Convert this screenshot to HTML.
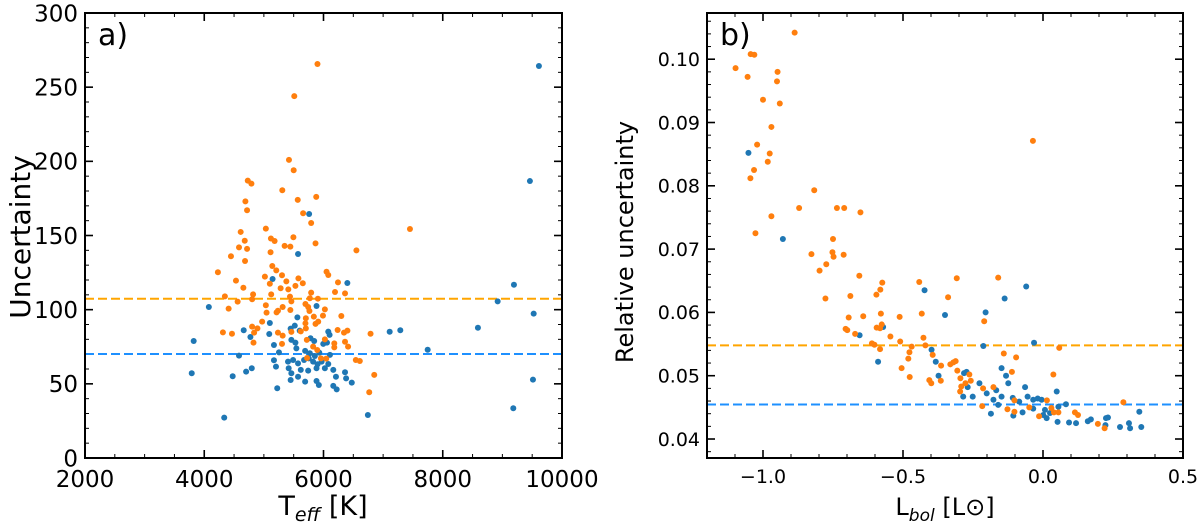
<!DOCTYPE html>
<html><head><meta charset="utf-8">
<style>
html,body{margin:0;padding:0;background:#fff;}
svg{display:block;font-family:"DejaVu Sans","Liberation Sans",sans-serif;}
</style></head>
<body>
<svg id="chart" width="1200" height="525" viewBox="0 0 1200 525" xmlns="http://www.w3.org/2000/svg"></svg>
<script>
// ---- Panel a data: Teff [K] vs uncertainty ----
const aOrangeT=[5421,5500,4730,4791,5309,4690,4718,5568,5878,5658,5793,7450,5033,4611,5118,5180,5495,4679,5348,5444,5866,4583,4718,5112,4448,6552,4684,5141,5208,4229,5304,6051,6080,5017,5579,4532,5377,5100,5529,5653,6243,4656,5281,5410,5793,6193,6361,4346,4819,5123,5438,5771,5906,4560,4803,5461,5697,4409,5033,5315,5236,5743,6023,5444,5045,5213,5764,5991,5838,6299,4971,5704,5911,5697,5866,4803,4892,5704,4313,4465,4836,5236,5315,5461,5619,6237,6344,6401,6789,4826,5304,5720,5826,5895,6023,6181,6181,6361,6412,5725,5957,6046,6542,6609,6851,6767,5899,5510];
const aOrangeU=[201,194,187,185,180.5,173,167,174,176,165,158.4,154.4,154.6,152.4,148,146.3,148.8,146.5,143,142.5,144.7,142,141,138.7,136,140,132.8,129.4,126.5,125.2,123.2,125.6,123.4,122.3,121.1,119.6,119.1,117.5,116,117.8,118.4,114.8,114.4,113.7,111.5,111.9,111,109,110.3,110.3,108.8,107.7,107.4,105.4,107,105.6,103.8,100.7,103,101.8,99.3,101.8,100.2,99.8,98,98.2,99.1,96,95.3,95.7,91.9,94.2,91.9,90.8,90.4,88.6,87.4,87.4,84.7,83.8,84.5,84.5,82.5,85,85.4,86.3,84.5,85.9,83.8,77.8,76.9,79.6,75.1,72.8,80,77.3,74.6,78.4,75.1,67.4,67.2,67,66.1,65.4,56,44.3,265.6,244];
const aBlueT=[5759,5573,5146,6400,4077,5883,5562,5100,4662,5090,5449,5518,5601,6080,6102,7110,7288,3823,4774,5169,5461,5529,5782,5844,5996,6058,4583,5253,5545,5692,5771,5855,5929,6108,5169,5405,5490,5573,5674,5754,5826,5900,5968,6080,3790,4477,4702,4797,5203,5416,5461,5619,5743,5883,6023,6164,6361,5449,5573,5692,5883,6209,6379,6474,5224,5922,6164,6221,4335,6744,9613,9462,9194,8921,8590,9525,9513,9183,7747];
const aBlueU=[164.5,137.5,120.7,118,101.8,102.5,94.8,91,86.1,83.6,87.2,89.2,85.9,85.2,83,85.1,86.1,78.9,81.6,76.2,79.6,77.8,80.7,78.9,76.9,77.8,69,71.2,73.9,72.2,70.6,68.8,71,69.5,65.9,65,66.1,63.8,66.1,67.2,65,63.2,65,63.4,57.1,55.1,58.2,60.5,61.6,60.5,57.1,59.4,58.9,60.5,60.5,59.4,57.8,52.6,54.8,51.5,51.9,54.8,53.7,50.8,47,49.2,48.6,46.3,27.2,29,264.3,186.7,116.8,105.6,87.8,97.3,52.8,33.5,73];
const aOrangeMean=107.4, aBlueMean=70.1;
const aXTicks=[2000,4000,6000,8000,10000];
const aYTicks=[0,50,100,150,200,250,300];

// ---- Panel b data: Lbol vs relative uncertainty ----
const bOrangeL=[-1.098,-1.055,-1.044,-1.031,-0.887,-0.948,-0.950,-1.000,-0.940,-0.970,-1.021,-0.976,-0.983,-1.032,-1.045,-1.027,-0.970,-0.817,-0.871,-0.736,-0.710,-0.652,-0.750,-0.827,-0.752,-0.748,-0.712,-0.774,-0.798,-0.656,-0.777,-0.688,-0.574,-0.581,-0.595,-0.642,-0.694,-0.705,-0.699,-0.671,-0.579,-0.594,-0.582,-0.576,-0.545,-0.512,-0.510,-0.611,-0.602,-0.582,-0.469,-0.477,-0.481,-0.505,-0.476,-0.442,-0.433,-0.427,-0.420,-0.394,-0.406,-0.399,-0.364,-0.365,-0.339,-0.308,-0.331,-0.320,-0.312,-0.306,-0.295,-0.292,-0.296,-0.277,-0.263,-0.258,-0.210,-0.160,-0.214,-0.177,-0.217,-0.140,-0.096,-0.111,-0.102,-0.127,-0.102,-0.049,-0.014,-0.036,0.014,0.030,0.037,0.039,0.055,0.058,0.114,0.125,0.196,0.220,0.287];
const bOrangeR=[0.0986,0.0972,0.1008,0.1007,0.1042,0.0980,0.0965,0.0936,0.0930,0.0893,0.0865,0.0851,0.0838,0.0825,0.0812,0.0725,0.0752,0.0793,0.0765,0.0765,0.0765,0.0758,0.0716,0.0692,0.0695,0.0688,0.0691,0.0676,0.0666,0.0658,0.0622,0.0626,0.0647,0.0636,0.0628,0.0594,0.0592,0.0574,0.0572,0.0566,0.0598,0.0576,0.0575,0.0581,0.0562,0.0593,0.0554,0.0551,0.0549,0.0542,0.0546,0.0537,0.0527,0.0512,0.0498,0.0648,0.0598,0.0560,0.0548,0.0533,0.0493,0.0488,0.0516,0.0492,0.0624,0.0654,0.0518,0.0521,0.0523,0.0508,0.0496,0.0483,0.0475,0.0488,0.0502,0.0492,0.0586,0.0655,0.0480,0.0482,0.0452,0.0535,0.0529,0.0506,0.0461,0.0447,0.0443,0.0450,0.0436,0.0871,0.0461,0.0449,0.0502,0.0442,0.0442,0.0544,0.0442,0.0438,0.0424,0.0417,0.0458];
const bBlueL=[-1.052,-0.929,-0.655,-0.589,-0.571,-0.423,-0.398,-0.383,-0.373,-0.350,-0.282,-0.273,-0.285,-0.269,-0.251,-0.227,-0.205,-0.213,-0.201,-0.186,-0.167,-0.148,-0.137,-0.132,-0.124,-0.177,-0.160,-0.148,-0.108,-0.106,-0.085,-0.073,-0.064,-0.060,-0.055,-0.032,-0.035,-0.019,-0.005,-0.035,0.007,0.013,0.001,0.025,0.049,0.055,0.052,0.082,0.093,0.118,0.160,0.171,0.225,0.232,0.223,0.275,0.307,0.311,0.344,0.351];
const bBlueR=[0.0852,0.0716,0.0564,0.0522,0.0577,0.0635,0.0541,0.0522,0.0500,0.0596,0.0504,0.0506,0.0467,0.0482,0.0467,0.0488,0.0600,0.0547,0.0472,0.0440,0.0477,0.0512,0.0622,0.0500,0.0488,0.0462,0.0454,0.0467,0.0465,0.0437,0.0459,0.0442,0.0482,0.0641,0.0467,0.0552,0.0462,0.0464,0.0462,0.0448,0.0446,0.0433,0.0438,0.0441,0.0475,0.0451,0.0427,0.0455,0.0426,0.0425,0.0428,0.0431,0.0433,0.0434,0.0422,0.0419,0.0425,0.0417,0.0443,0.0419];
const bOrangeMean=0.0548, bBlueMean=0.04545;
const bXTicks=[-1.0,-0.5,0.0,0.5];
const bXTickLabels=["\u22121.0","\u22120.5","0.0","0.5"];
const bYTicks=[0.04,0.05,0.06,0.07,0.08,0.09,0.10];
const bYTickLabels=["0.04","0.05","0.06","0.07","0.08","0.09","0.10"];

const NS="http://www.w3.org/2000/svg";
const svg=document.getElementById('chart');
function mk(tag,attrs,parent){const e=document.createElementNS(NS,tag);for(const k in attrs)e.setAttribute(k,attrs[k]);(parent||svg).appendChild(e);return e;}
const BLUE="#1f77b4", ORANGE="#ff7f0e";

function panel(cfg){
  const g=mk('g',{});
  
  
  const L=cfg.x0,R=cfg.x1,T=13,B=458;
  const sx=v=>L+(v-cfg.xmin)/(cfg.xmax-cfg.xmin)*(R-L);
  const sy=v=>B-(v-cfg.ymin)/(cfg.ymax-cfg.ymin)*(B-T);
  for(let v=cfg.xmin0;v<=cfg.xmax+1e-9;v+=cfg.xminor){if(v<cfg.xmin-1e-9)continue;const x=sx(v);
    mk('line',{x1:x,x2:x,y1:B,y2:B-4,stroke:'#000','stroke-width':1},g);
    mk('line',{x1:x,x2:x,y1:T,y2:T+4,stroke:'#000','stroke-width':1},g);}
  for(let v=cfg.ymin0;v<=cfg.ymax+1e-9;v+=cfg.yminor){if(v<cfg.ymin-1e-9)continue;const y=sy(v);
    mk('line',{x1:L,x2:L+4,y1:y,y2:y,stroke:'#000','stroke-width':1},g);
    mk('line',{x1:R,x2:R-4,y1:y,y2:y,stroke:'#000','stroke-width':1},g);}
  cfg.xt.forEach((v,i)=>{const x=sx(v);
    mk('line',{x1:x,x2:x,y1:B,y2:B-8,stroke:'#000','stroke-width':1.6},g);
    mk('line',{x1:x,x2:x,y1:T,y2:T+8,stroke:'#000','stroke-width':1.6},g);
    const t=mk('text',{x:x,y:B+cfg.fs+6,'text-anchor':'middle','font-size':cfg.fs},g);t.textContent=cfg.xtl[i];
    
    });
  cfg.yt.forEach((v,i)=>{const y=sy(v);
    mk('line',{x1:L,x2:L+8,y1:y,y2:y,stroke:'#000','stroke-width':1.6},g);
    mk('line',{x1:R,x2:R-8,y1:y,y2:y,stroke:'#000','stroke-width':1.6},g);
    const t=mk('text',{x:L-7,y:y+cfg.fs*0.36,'text-anchor':'end','font-size':cfg.fs},g);t.textContent=cfg.ytl[i];
    
    });
  const lo=mk('line',{x1:L,x2:R,y1:sy(cfg.om),y2:sy(cfg.om),stroke:'#ffa500','stroke-width':2,'stroke-dasharray':'9,4'},g);
  
  
  const lb=mk('line',{x1:L,x2:R,y1:sy(cfg.bm),y2:sy(cfg.bm),stroke:'#1e90ff','stroke-width':2,'stroke-dasharray':'9,4'},g);
  
  
  cfg.bx.forEach((v,i)=>{const c=mk('circle',{cx:sx(v),cy:sy(cfg.by[i]),r:3,fill:BLUE},g);
    
    });
  cfg.ox.forEach((v,i)=>{const c=mk('circle',{cx:sx(v),cy:sy(cfg.oy[i]),r:3,fill:ORANGE},g);
    
    });
  const fr=mk('rect',{x:L,y:T,width:R-L,height:B-T,fill:'none',stroke:'#000','stroke-width':2},g);
  
  
  const pl=mk('text',{x:L+13,y:T+32,'font-size':30},g);pl.textContent=cfg.label;
  
  
}

panel({name:'panel-a',x0:85,x1:562,xmin:2000,xmin0:2000,xmax:10000,xminor:500,ymin:0,ymin0:0,ymax:300,yminor:10,fs:23,
  xt:aXTicks,xtl:aXTicks.map(String),yt:aYTicks,ytl:aYTicks.map(String),
  om:aOrangeMean,bm:aBlueMean,ox:aOrangeT,oy:aOrangeU,bx:aBlueT,by:aBlueU,label:'a)'});
panel({name:'panel-b',x0:707,x1:1183,xmin:-1.2,xmin0:-1.2,xmax:0.5,xminor:0.1,ymin:0.037,ymin0:0.036,ymax:0.1073,yminor:0.002,fs:19,
  xt:bXTicks,xtl:bXTickLabels,yt:bYTicks,ytl:bYTickLabels,
  om:bOrangeMean,bm:bBlueMean,ox:bOrangeL,oy:bOrangeR,bx:bBlueL,by:bBlueR,label:'b)'});

let t;
t=mk('text',{x:323,y:515,'text-anchor':'middle','font-size':27});
t.innerHTML='T<tspan font-size="19" dy="6" font-style="italic">eff</tspan><tspan dy="-6"> [K]</tspan>';


t=mk('text',{x:0,y:0,'text-anchor':'middle','font-size':28,transform:'translate(30,237) rotate(-90)'});
t.textContent='Uncertainty';


t=mk('text',{x:945,y:515,'text-anchor':'middle','font-size':24});
t.innerHTML='L<tspan font-size="17" dy="6" font-style="italic">bol</tspan><tspan dy="-6"> [L\u2299]</tspan>';


t=mk('text',{x:0,y:0,'text-anchor':'middle','font-size':24,transform:'translate(633,242) rotate(-90)'});
t.textContent='Relative uncertainty';


</script>
</body></html>
